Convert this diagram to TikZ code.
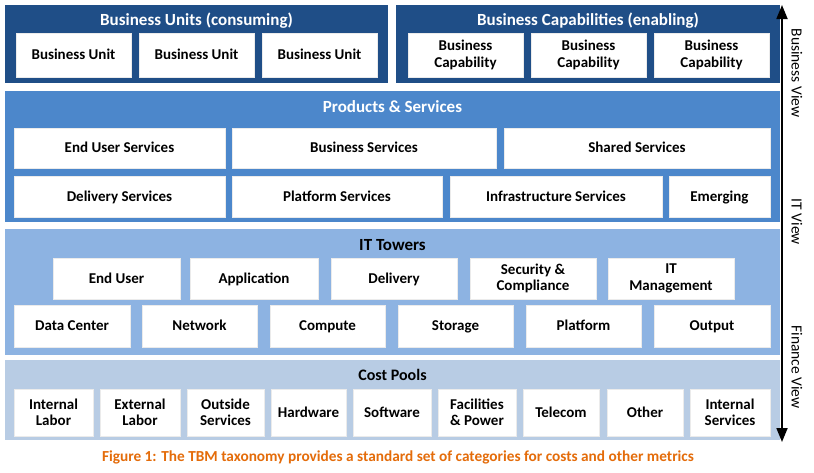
\documentclass[tikz,border=0pt]{standalone}
\usepackage{fontspec}
\setmainfont{Carlito}
\usetikzlibrary{arrows.meta}
\definecolor{navy}{HTML}{1F4E87}
\definecolor{midblue}{HTML}{4C87CB}
\definecolor{liteblue}{HTML}{8DB3E2}
\definecolor{paleblue}{HTML}{B8CCE4}
\definecolor{capt}{HTML}{E46C0A}
\tikzset{
  x=1pt, y=-1pt,
  ptitle/.style={font=\bfseries\fontsize{17}{19}\selectfont, inner sep=0pt, text height=13pt, text depth=2pt},
  bxbase/.style={fill=white, draw=black!8, inner sep=0pt,
    font=\bfseries\fontsize{15}{16.5}\selectfont},
  bx/.style={bxbase, text height=12pt, text depth=2.4pt},
  bxtwo/.style={bxbase, align=center},
  vlabel/.style={rotate=-90, font=\fontsize{15.5}{17}\selectfont, inner sep=0pt},
}
\newcommand{\bxat}[5]{\node[bx, minimum width=#3pt, minimum height=#4pt] (#1) at (#2) {#5};}
\newcommand{\bxtw}[5]{\node[bxtwo, minimum width=#3pt, minimum height=#4pt] (#1) at (#2) {#5};}
\begin{document}
\begin{tikzpicture}
\useasboundingbox (0,0) rectangle (814,472);
\fill[white] (0,0) rectangle (814,472);
% panels
\fill[navy] (5,5) rectangle (388,83);
\fill[navy] (396,5) rectangle (780,83);
\fill[midblue] (5,91) rectangle (780,222);
\fill[liteblue] (5,229) rectangle (780,355);
\fill[paleblue] (5,360) rectangle (780,440);
% titles
\node[ptitle, text=white] (tbu) at (196.5,20) {Business Units (consuming)};
\node[ptitle, text=white] (tbc) at (588,20) {Business Capabilities (enabling)};
\node[ptitle, text=white] (tps) at (392.5,107) {Products \& Services};
\node[ptitle] (tit) at (392.5,245) {IT Towers};
\node[ptitle, font=\bfseries\fontsize{16}{18}\selectfont] (tcp) at (392.5,375) {Cost Pools};
% business units
\bxat{bu1}{73.5,55}{115}{44}{Business Unit}
\bxat{bu2}{196.5,55}{115}{44}{Business Unit}
\bxat{bu3}{319.5,55}{115}{44}{Business Unit}
% business capabilities
\bxtw{bc1}{465.5,55}{115}{44}{Business\\Capability}
\bxtw{bc2}{588.5,55}{115}{44}{Business\\Capability}
\bxtw{bc3}{711.5,55}{115}{44}{Business\\Capability}
% products & services
\bxat{ps1}{119.5,148}{211}{40}{End User Services}
\bxat{ps2}{364,148}{264}{40}{Business Services}
\bxat{ps3}{637,148}{266}{40}{Shared Services}
\bxat{ps4}{119.5,196.5}{211}{41}{Delivery Services}
\bxat{ps5}{337,196.5}{210}{41}{Platform Services}
\bxat{ps6}{556,196.5}{212}{41}{Infrastructure Services}
\bxat{ps7}{719.5,196.5}{101}{41}{Emerging}
% IT towers
\bxat{it1}{116.5,278.5}{127}{41}{End User}
\bxat{it2}{254,278.5}{128}{41}{Application}
\bxat{it3}{394,278.5}{126}{41}{Delivery}
\bxtw{it4}{533,278.5}{126}{41}{Security \&\\Compliance}
\bxtw{it5}{671,278.5}{126}{41}{IT\\Management}
\bxat{it6}{72,326}{116}{42}{Data Center}
\bxat{it7}{199.5,326}{115}{42}{Network}
\bxat{it8}{327.5,326}{115}{42}{Compute}
\bxat{it9}{455.5,326}{115}{42}{Storage}
\bxat{it10}{583.5,326}{115}{42}{Platform}
\bxat{it11}{712,326}{116}{42}{Output}
% cost pools
\bxtw{cp1}{53.5,412.5}{79}{47}{Internal\\Labor}
\bxtw{cp2}{140,412.5}{80}{47}{External\\Labor}
\bxtw{cp3}{225.5,412.5}{77}{47}{Outside\\Services}
\bxat{cp4}{308.5,412.5}{75}{47}{Hardware}
\bxat{cp5}{392,412.5}{78}{47}{Software}
\bxtw{cp6}{477,412.5}{78}{47}{Facilities\\\& Power}
\bxat{cp7}{561,412.5}{76}{47}{Telecom}
\bxat{cp8}{645,412.5}{76}{47}{Other}
\bxtw{cp9}{730,412.5}{80}{47}{Internal\\Services}
% arrow
\coordinate (atop) at (782,5);
\coordinate (abot) at (782,442);
\draw[line width=1.8pt, {Triangle[width=11pt,length=14pt]}-{Triangle[width=11pt,length=14pt]}] (atop) -- (abot);
\node[vlabel] (lbv) at (797,73) {Business View};
\node[vlabel] (liv) at (797,222) {IT View};
\node[vlabel] (lfv) at (797,367) {Finance View};
% caption
\node[text=capt, font=\bfseries\fontsize{15.3}{17}\selectfont, inner sep=0pt] (cap) at (398,457) {Figure 1: The TBM taxonomy provides a standard set of categories for costs and other metrics};
\end{tikzpicture}
\end{document}
